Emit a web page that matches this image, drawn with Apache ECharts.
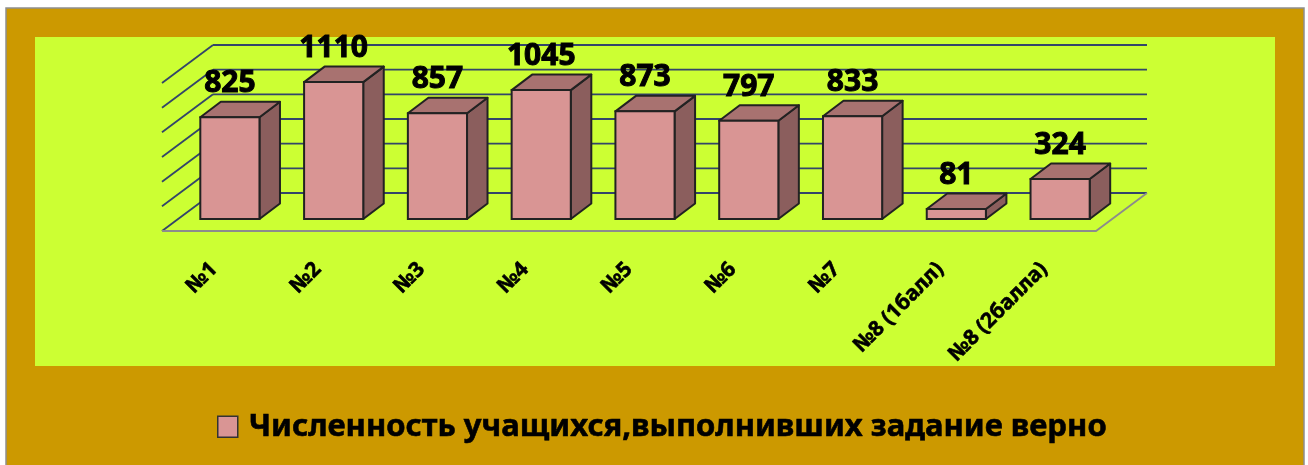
<!DOCTYPE html>
<html><head><meta charset="utf-8">
<script src="https://cdn.jsdelivr.net/npm/echarts@6/dist/echarts.min.js"></script>
<style>html,body{margin:0;padding:0;background:#fff}#c{width:1308px;height:465px}</style>
</head><body><div id="c"></div>
<script>
const categories = ['№1','№2','№3','№4','№5','№6','№7','№8 (1балл)','№8 (2балла)'];
const values = [825, 1110, 857, 1045, 873, 797, 833, 81, 324];
const yTicks = [0, 200, 400, 600, 800, 1000, 1200];
const seriesName = 'Численность учащихся,выполнивших задание верно';

const FONT = '"Noto Sans", "Open Sans", sans-serif';
// projection of depth (pixels)
const FRONT = [16, -12];   // bar front plane offset from floor front edge
const BACK = [51, -38];    // back wall offset
const DEPTH = [20.5, -15.5]; // bar depth
const BAR_RATIO = 0.57;

const chart = echarts.init(document.getElementById('c'), null, {renderer: 'canvas'});

function wallItem(params, api) {
  const v = api.value(1);
  const bw = api.size([1, 0])[0];
  const n = categories.length;
  const p0 = api.coord([0, v]);
  const pn = api.coord([n - 1, v]);
  const xl = p0[0] - bw / 2, xr = pn[0] + bw / 2, y = p0[1];
  const line = '#33456A';
  const children = [
    {type: 'line', shape: {x1: xl, y1: y, x2: xl + BACK[0], y2: y + BACK[1]}, style: {stroke: line, lineWidth: 1.8}},
    {type: 'line', shape: {x1: xl + BACK[0], y1: y + BACK[1], x2: xr + BACK[0], y2: y + BACK[1]}, style: {stroke: line, lineWidth: 1.8}}
  ];
  if (v === 0) {
    children.push({type: 'polyline', shape: {points: [[xl, y], [xr, y], [xr + BACK[0], y + BACK[1]]]}, style: {stroke: '#8C8C8C', lineWidth: 1.8, fill: null}});
  }
  return {type: 'group', children};
}

function barItem(params, api) {
  const idx = api.value(0);
  const val = api.value(1);
  const band = api.size([1, 0])[0];
  const bw = band * BAR_RATIO;
  const c0 = api.coord([idx, 0]);
  const c1 = api.coord([idx, val]);
  const x0 = c0[0] + FRONT[0] - bw / 2, x1 = x0 + bw;
  const yb = c0[1] + FRONT[1], yt = c1[1] + FRONT[1];
  const dx = DEPTH[0], dy = DEPTH[1];
  const stroke = '#222222', lw = 2;
  return {type: 'group', children: [
    {type: 'polygon', shape: {points: [[x1, yt], [x1 + dx, yt + dy], [x1 + dx, yb + dy], [x1, yb]]}, style: {fill: '#8B5E5D', stroke, lineWidth: lw, lineJoin: 'round'}},
    {type: 'polygon', shape: {points: [[x0, yt], [x1, yt], [x1 + dx, yt + dy], [x0 + dx, yt + dy]]}, style: {fill: '#A87270', stroke, lineWidth: lw, lineJoin: 'round'}},
    {type: 'rect', shape: {x: x0, y: yt, width: bw, height: yb - yt}, style: {fill: '#D99594', stroke, lineWidth: lw}},
    {type: 'text', style: {text: String(val), x: (x0 + x1) / 2, y: yt + dy - 3, align: 'center', verticalAlign: 'bottom', fontFamily: FONT, fontWeight: 'bold', fontSize: 30, fill: '#000', stroke: '#000', lineWidth: 1}}
  ]};
}

chart.setOption({
  backgroundColor: '#ffffff',
  animation: false,
  graphic: [
    {type: 'rect', z: -10, shape: {x: 6, y: 8, width: 1298, height: 460}, style: {fill: '#CC9900', stroke: '#8E8E8E', lineWidth: 1.5}},
    {type: 'rect', z: -9, shape: {x: 35, y: 37, width: 1240, height: 329}, style: {fill: '#CCFF33'}}
  ],
  grid: {left: 162, right: 212, top: 83, bottom: 234, containLabel: false},
  legend: {
    data: [seriesName],
    top: 411,
    left: 217,
    padding: 0,
    icon: 'rect',
    itemWidth: 20, itemHeight: 21,
    itemStyle: {color: '#D99594', borderColor: '#333', borderWidth: 1.5},
    textStyle: {fontFamily: FONT, fontWeight: 'bold', fontSize: 31, color: '#000', padding: [0, 0, 0, 6], textBorderColor: '#000', textBorderWidth: 0.6}
  },
  xAxis: {
    type: 'category', data: categories,
    axisLine: {show: false}, axisTick: {show: false}, splitLine: {show: false},
    axisLabel: {rotate: 45, margin: 35, interval: 0, fontFamily: FONT, fontWeight: 'bold', fontSize: 21, color: '#000', textBorderColor: '#000', textBorderWidth: 0.6}
  },
  yAxis: {type: 'value', min: 0, max: 1200, interval: 200, show: false},
  series: [
    {type: 'custom', name: 'walls', clip: false, z: 1, silent: true, renderItem: wallItem, data: yTicks.map(v => [0, v])},
    {type: 'custom', name: seriesName, clip: false, z: 2, renderItem: barItem, itemStyle: {color: '#D99594'},
     data: values.map((v, i) => [i, v])}
  ]
});
</script></body></html>
